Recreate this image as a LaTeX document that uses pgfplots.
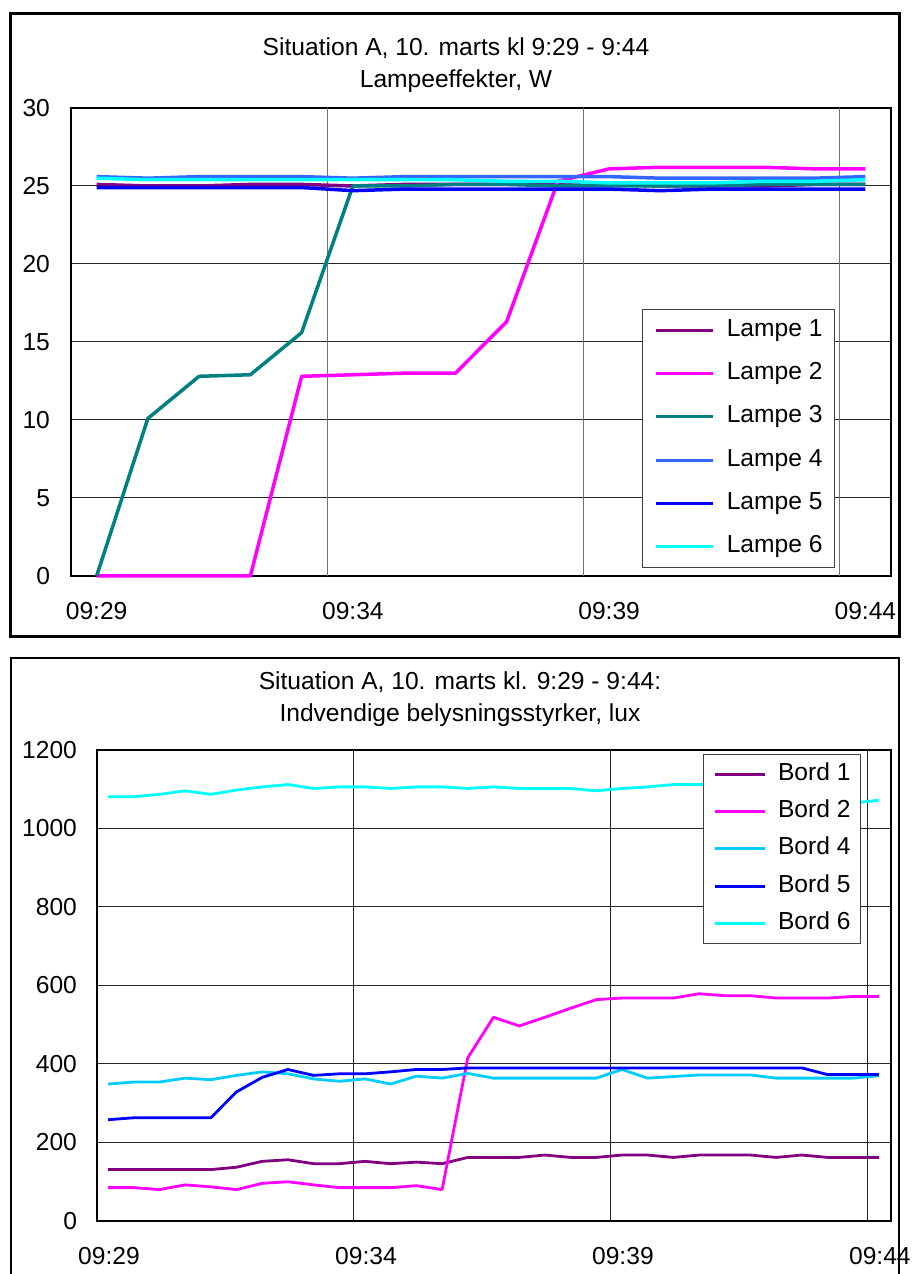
\documentclass[border=0pt]{standalone}
\usepackage{fontspec}
\setmainfont{Liberation Sans}
\usepackage{pgfplots}
\usepackage{pgfplotstable}
\pgfplotsset{compat=1.18}

\definecolor{cPurple}{HTML}{800080}
\definecolor{cMagenta}{HTML}{FF00FF}
\definecolor{cTeal}{HTML}{008080}
\definecolor{cLightBlue}{HTML}{3366FF}
\definecolor{cBlue}{HTML}{0000FF}
\definecolor{cCyan}{HTML}{00FFFF}
\definecolor{cSky}{HTML}{00CCFF}

% Lampeeffekter, one row per minute from 09:29
\pgfplotstableread{
i  L1   L2   L3   L4   L5   L6
0  25.1 0    0    25.6 24.9 25.5
1  25.0 0    10.1 25.5 24.9 25.4
2  25.0 0    12.8 25.6 24.9 25.4
3  25.1 0    12.9 25.6 24.9 25.4
4  25.1 12.8 15.6 25.6 24.9 25.4
5  25.0 12.9 25.0 25.5 24.7 25.4
6  25.1 13.0 25.0 25.6 24.8 25.4
7  25.1 13.0 25.1 25.6 24.8 25.4
8  25.1 16.3 25.1 25.6 24.8 25.3
9  25.1 25.3 25.0 25.6 24.8 25.3
10 25.1 26.1 25.0 25.6 24.8 25.2
11 25.0 26.2 25.0 25.5 24.7 25.2
12 25.0 26.2 25.0 25.5 24.8 25.2
13 25.0 26.2 25.1 25.5 24.8 25.3
14 25.1 26.1 25.1 25.5 24.8 25.3
15 25.1 26.1 25.1 25.6 24.8 25.4
}\lampe

% Belysningsstyrker, one row per half minute
\pgfplotstableread{
k  B1  B2  B4  B5  B6
0  131 85  349 258 1081
1  131 85  354 263 1081
2  131 80  354 263 1087
3  131 92  364 263 1096
4  131 87  360 263 1087
5  137 80  371 329 1098
6  152 96  380 366 1106
7  156 100 375 386 1112
8  146 92  362 371 1102
9  146 85  356 375 1106
10 152 85  362 375 1106
11 146 85  349 380 1102
12 150 90  369 386 1106
13 146 80  364 386 1106
14 162 416 376 390 1102
15 162 519 364 390 1106
16 162 497 364 390 1102
17 168 519 364 390 1102
18 162 542 364 390 1102
19 162 564 364 390 1096
20 168 568 386 390 1102
21 168 568 364 390 1106
22 162 568 368 390 1112
23 168 579 372 390 1112
24 168 574 372 390 1110
25 168 574 372 390 1105
26 162 568 364 390 1095
27 168 568 364 390 1085
28 162 568 364 373 1075
29 162 572 364 373 1065
30 162 572 370 373 1072
}\bord

\pgfplotsset{
  excelaxis/.style={
    scale only axis,
    anchor=south west,
    clip=false,
    major tick length=0pt,
    axis line style={black, line width=0.6pt},
    ymajorgrids,
    major grid style={black!85, line width=0.5pt},
    tick label style={font=\fontsize{12.3}{14.8}\selectfont},
    /pgf/number format/assume math mode=true,
    /pgf/number format/1000 sep={},
    yticklabel style={xshift=-7pt},
    legend cell align=left,
  },
}

\begin{document}
\begin{tikzpicture}[font=\fontsize{12.3}{14.8}\selectfont]
\useasboundingbox (0pt,0pt) rectangle (455.5pt,637pt);

% outer frames
\draw[line width=1.5pt] (5.25pt,318.5pt) rectangle (449.5pt,630pt);
\draw[line width=1pt] (5.5pt,-5pt) rectangle (449.5pt,308pt);

% titles
\node[anchor=base] at (228pt,609pt) {Situation A, 10. marts kl 9:29 - 9:44};
\node[anchor=base] at (228pt,593pt) {Lampeeffekter, W};
\node[anchor=base] at (230pt,292pt) {Situation A, 10. marts kl. 9:29 - 9:44:};
\node[anchor=base] at (230pt,276pt) {Indvendige belysningsstyrker, lux};

\begin{axis}[excelaxis,
  at={(35.5pt,349pt)}, width=410pt, height=234pt,
  xmin=-0.5, xmax=15.5, ymin=0, ymax=30,
  ytick={0,5,...,30},
  xtick={0,5,10,15}, xticklabels={09:29,09:34,09:39,09:44},
  xticklabel style={yshift=-9.5pt},
  extra x ticks={4.5,9.5,14.5}, extra x tick labels={},
  extra x tick style={grid=major, major grid style={black!55, line width=0.5pt}},
  legend style={at={(0.9317,0.5705)}, anchor=north east, fill=white,
    draw=black!75, line width=0.5pt, inner xsep=6pt, inner ysep=4.5pt,
    row sep=9.6pt, column sep=6pt,
    nodes={inner sep=0pt, text height=9pt, text depth=3pt}},
  legend image code/.code={\draw[#1, line width=1.5pt] (0pt,0pt) -- (28.5pt,0pt);},
  every axis plot/.append style={line width=1.75pt, line join=round},
]
\addplot[cPurple] table[x=i, y=L1] {\lampe};
\addlegendentry{Lampe 1}
\addplot[cMagenta] table[x=i, y=L2] {\lampe};
\addlegendentry{Lampe 2}
\addplot[cTeal] table[x=i, y=L3] {\lampe};
\addlegendentry{Lampe 3}
\addplot[cLightBlue] table[x=i, y=L4] {\lampe};
\addlegendentry{Lampe 4}
\addplot[cBlue] table[x=i, y=L5] {\lampe};
\addlegendentry{Lampe 5}
\addplot[cCyan] table[x=i, y=L6] {\lampe};
\addlegendentry{Lampe 6}
\end{axis}

\begin{axis}[excelaxis,
  at={(48.5pt,26.5pt)}, width=397pt, height=235.5pt,
  xmin=-0.43, xmax=30.47, ymin=0, ymax=1200,
  ytick={0,200,...,1200},
  xtick={-0.43,9.57,19.57,29.57}, xticklabels={09:29,09:34,09:39,09:44},
  xticklabel style={xshift=6pt, yshift=-9.5pt},
  xmajorgrids,
  yticklabel style={xshift=0.5pt},
  legend style={at={(0.9622,0.9913)}, anchor=north east, fill=white,
    draw=black!75, line width=0.5pt, inner xsep=5pt, inner ysep=4pt,
    row sep=6.6pt, column sep=6pt,
    nodes={inner sep=0pt, text height=9pt, text depth=3pt}},
  legend image code/.code={\draw[#1, line width=1.5pt] (0pt,0pt) -- (25pt,0pt);},
  every axis plot/.append style={line width=1.4pt, line join=round},
]
\addplot[cPurple] table[x=k, y=B1] {\bord};
\addlegendentry{Bord 1}
\addplot[cMagenta] table[x=k, y=B2] {\bord};
\addlegendentry{Bord 2}
\addplot[cSky] table[x=k, y=B4] {\bord};
\addlegendentry{Bord 4}
\addplot[cBlue] table[x=k, y=B5] {\bord};
\addlegendentry{Bord 5}
\addplot[cCyan] table[x=k, y=B6] {\bord};
\addlegendentry{Bord 6}
\end{axis}
\end{tikzpicture}
\end{document}
